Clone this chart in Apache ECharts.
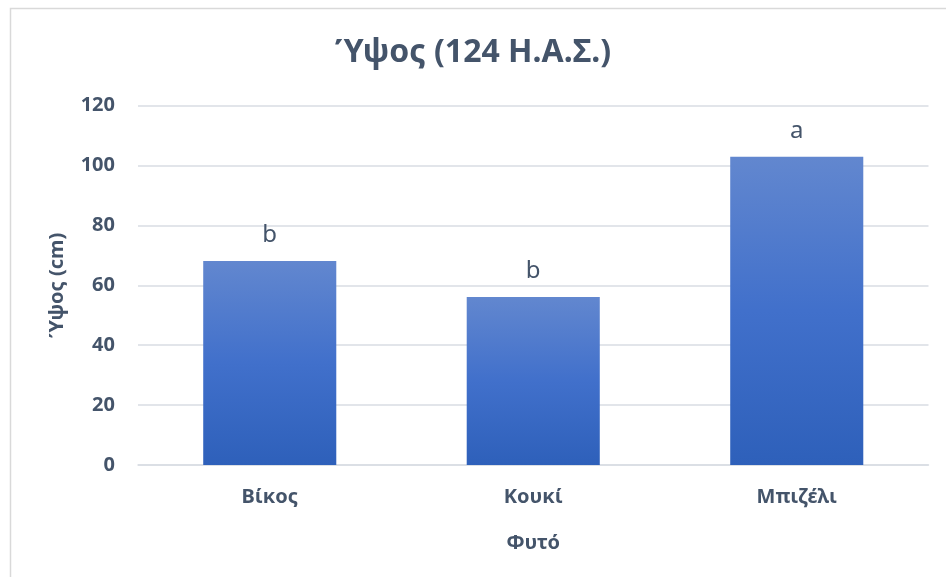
<!DOCTYPE html>
<html>
<head>
<meta charset="utf-8">
<script src="https://cdn.jsdelivr.net/npm/echarts@6/dist/echarts.min.js"></script>
<style>
  html, body { margin: 0; padding: 0; background: #fff; }
  #chart { width: 946px; height: 577px; }
</style>
</head>
<body>
<div id="chart"></div>
<script>
// Plant height at 124 days after sowing
const categories = ['Βίκος', 'Κουκί', 'Μπιζέλι'];
const heights = [68.1, 56.1, 102.9];
const groupLetters = ['b', 'b', 'a'];
const yTicks = [0, 20, 40, 60, 80, 100, 120];

const textColor = '#44546a';
const fontFamily = '"Noto Sans", "Open Sans", sans-serif';

const chart = echarts.init(document.getElementById('chart'));
chart.setOption({
  backgroundColor: '#ffffff',
  animation: false,
  graphic: [{
    type: 'rect',
    left: 8, top: 6,
    shape: { width: 1200, height: 1200 },
    style: { fill: 'none', stroke: '#d9d9d9', lineWidth: 1.5 },
    silent: true
  }],
  title: {
    text: 'Ύψος (124 Η.Α.Σ.)',
    left: 'center',
    top: 32,
    textStyle: { fontFamily, fontSize: 32, fontWeight: 'bold', color: textColor }
  },
  grid: { left: 138, right: 17.5, top: 105.5, bottom: 112, containLabel: false },
  xAxis: {
    type: 'category',
    data: categories,
    name: 'Φυτό',
    nameLocation: 'middle',
    nameGap: 68,
    nameTextStyle: { fontFamily, fontSize: 20, fontWeight: 'bold', color: textColor },
    axisLine: { show: true, lineStyle: { color: '#d9dde3', width: 1.5 } },
    axisTick: { show: false },
    axisLabel: { fontFamily, fontSize: 20, fontWeight: 'bold', color: textColor, margin: 22 }
  },
  yAxis: {
    type: 'value',
    min: yTicks[0],
    max: yTicks[yTicks.length - 1],
    interval: 20,
    name: 'Ύψος (cm)',
    nameLocation: 'middle',
    nameGap: 71,
    nameRotate: 90,
    nameTextStyle: { fontFamily, fontSize: 20, fontWeight: 'bold', color: textColor },
    axisLine: { show: false },
    axisTick: { show: false },
    axisLabel: { fontFamily, fontSize: 20, fontWeight: 'bold', color: textColor, margin: 23 },
    splitLine: { lineStyle: { color: '#d9dde3', width: 1.5 } }
  },
  series: [{
    type: 'bar',
    data: heights,
    barWidth: '50.5%',
    itemStyle: {
      color: {
        type: 'linear', x: 0, y: 0, x2: 0, y2: 1,
        colorStops: [
          { offset: 0, color: '#6287cf' },
          { offset: 0.5, color: '#4170cb' },
          { offset: 1, color: '#2e60ba' }
        ]
      }
    },
    label: {
      show: true,
      position: 'top',
      distance: 14,
      fontFamily,
      fontSize: 24,
      color: textColor,
      formatter: p => groupLetters[p.dataIndex]
    }
  }]
});
</script>
</body>
</html>
